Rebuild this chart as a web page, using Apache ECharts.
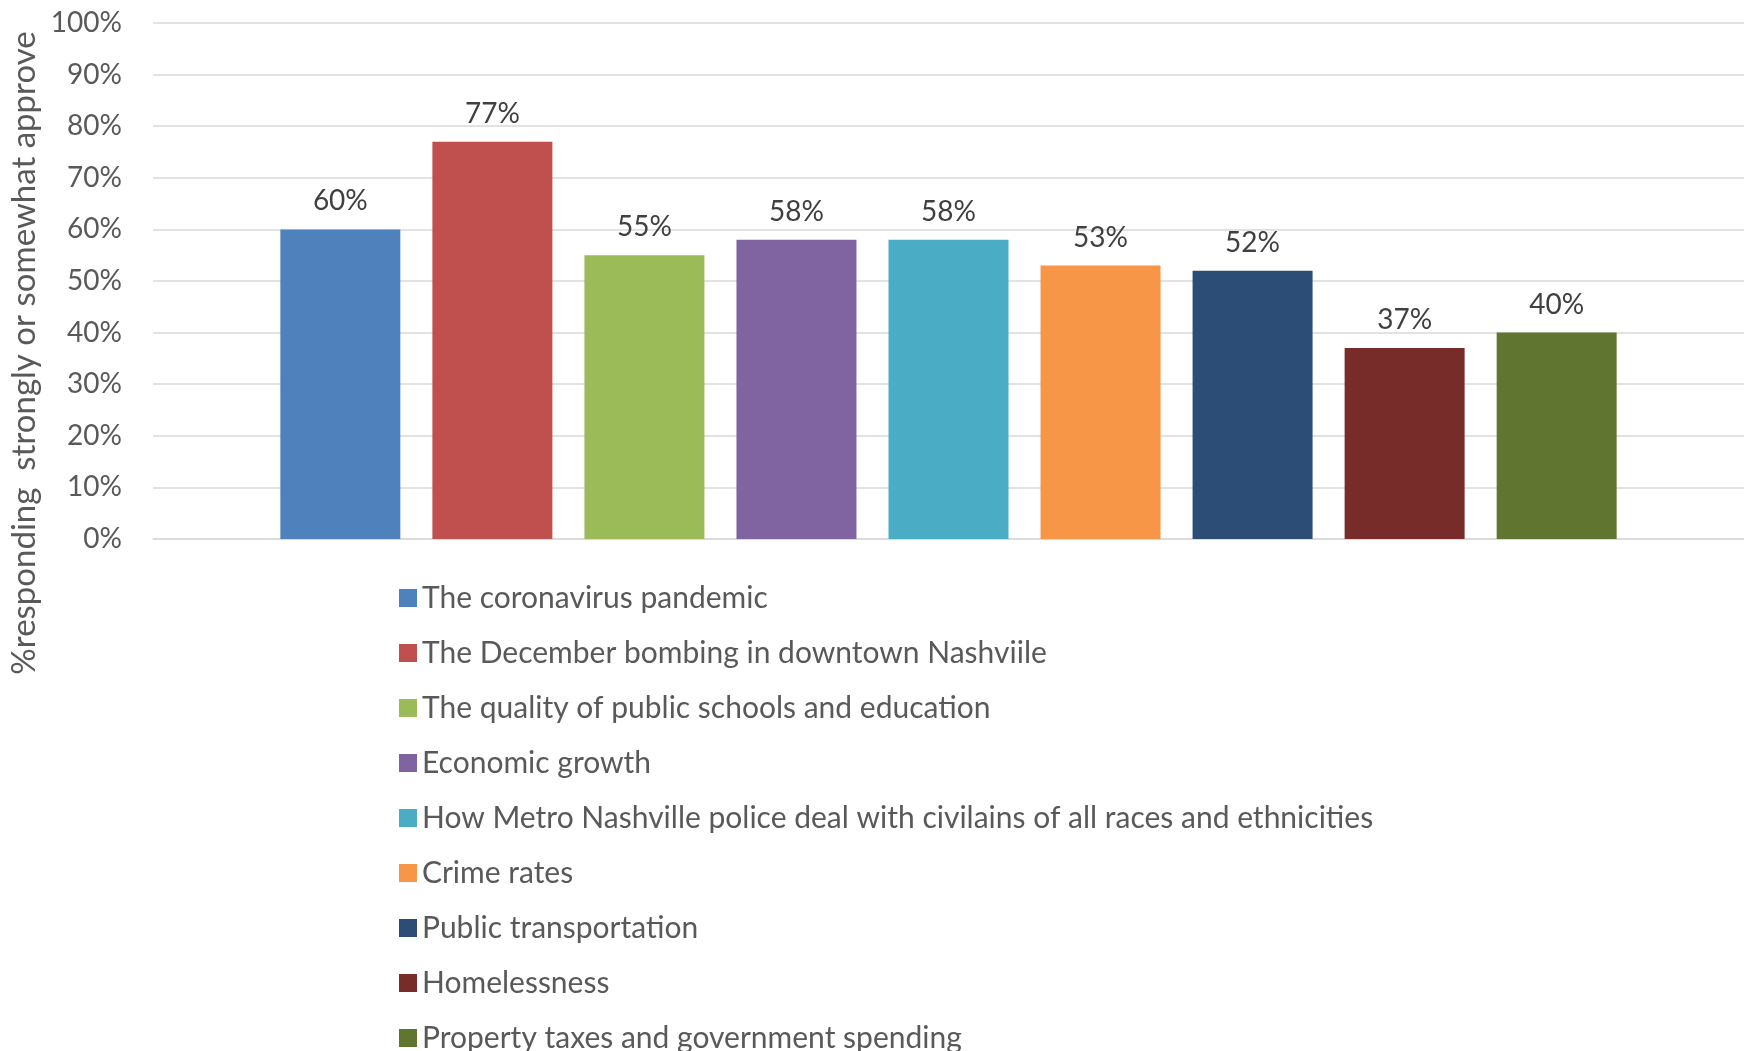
<!DOCTYPE html>
<html>
<head>
<meta charset="utf-8">
<script src="https://cdn.jsdelivr.net/npm/echarts@6/dist/echarts.min.js"></script>
<style>
  html, body { margin: 0; padding: 0; background: #fff; }
  #main { width: 1744px; height: 1051px; }
</style>
</head>
<body>
<div id="main"></div>
<script>
var topics = [
    'The coronavirus pandemic',
    'The December bombing in downtown Nashviile',
    'The quality of public schools and education',
    'Economic growth',
    'How Metro Nashville police deal with civilains of all races and ethnicities',
    'Crime rates',
    'Public transportation',
    'Homelessness',
    'Property taxes and government spending'
];
var approve = [60, 77, 55, 58, 58, 53, 52, 37, 40];
var colors = ['#4F81BD', '#C0504D', '#9BBB59', '#8064A2', '#4BACC6', '#F79646', '#2C4D75', '#772C2A', '#5F7530'];
var yTicks = [0, 10, 20, 30, 40, 50, 60, 70, 80, 90, 100];

var myChart = echarts.init(document.getElementById('main'));
var font = 'Lato';

var series = [];
for (var i = 0; i < topics.length; i++) {
    series.push({
        name: topics[i],
        type: 'bar',
        barWidth: 120,
        barGap: '26.7%',
        itemStyle: { color: colors[i] },
        label: {
            show: true,
            position: 'top',
            distance: 14,
            formatter: '{c}%',
            color: '#404040',
            fontFamily: font,
            fontSize: 28
        },
        data: [approve[i]]
    });
}

var option = {
    animation: false,
    color: colors,
    grid: { left: 153, width: 1600, top: 23, bottom: 512, containLabel: false },
    legend: {
        orient: 'vertical',
        left: 399,
        top: 583,
        height: 520,
        padding: 0,
        itemWidth: 18,
        itemHeight: 18,
        itemGap: 25,
        icon: 'rect',
        textStyle: { color: '#595959', fontFamily: font, fontSize: 30, lineHeight: 30 },
        data: topics
    },
    xAxis: {
        type: 'category',
        data: [''],
        axisLine: { show: true, lineStyle: { color: '#D9D9D9', width: 1.5 } },
        axisTick: { show: false },
        axisLabel: { show: false }
    },
    yAxis: {
        type: 'value',
        min: yTicks[0],
        max: yTicks[yTicks.length - 1],
        interval: 10,
        axisLine: { show: false },
        axisTick: { show: false },
        axisLabel: {
            formatter: '{value}%',
            margin: 31,
            color: '#595959',
            fontFamily: font,
            fontSize: 28
        },
        splitLine: { lineStyle: { color: '#D9D9D9', width: 1.5 } }
    },
    graphic: [{
        type: 'text',
        x: 24,
        y: 353,
        rotation: Math.PI / 2,
        style: {
            text: '%responding  strongly or somewhat approve',
            fill: '#595959',
            font: '33px Lato',
            textAlign: 'center',
            textVerticalAlign: 'middle'
        }
    }],
    series: series
};

myChart.setOption(option);
</script>
</body>
</html>
